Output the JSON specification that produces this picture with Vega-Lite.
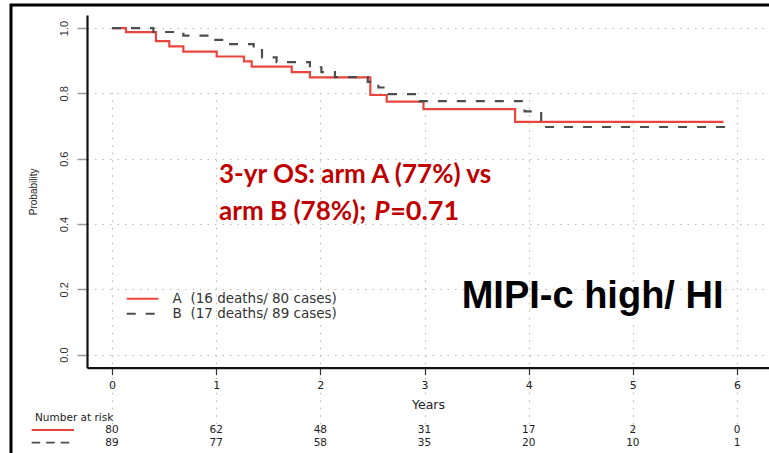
{
  "$schema": "https://vega.github.io/schema/vega-lite/v6.json",
  "width": 760,
  "height": 450,
  "autosize": {"type": "none"},
  "padding": {"left": 11, "top": 5, "right": -2, "bottom": -2},
  "background": "white",
  "config": {"view": {"stroke": "#000000", "strokeWidth": 3}},
  "datasets": {
    "km": [
      {"arm": "A\u00a0\u00a0(16 deaths/ 80 cases)", "Years": 0, "S": 1.0},
      {"arm": "A\u00a0\u00a0(16 deaths/ 80 cases)", "Years": 0.134, "S": 0.9875},
      {"arm": "A\u00a0\u00a0(16 deaths/ 80 cases)", "Years": 0.422, "S": 0.96},
      {"arm": "A\u00a0\u00a0(16 deaths/ 80 cases)", "Years": 0.55, "S": 0.944},
      {"arm": "A\u00a0\u00a0(16 deaths/ 80 cases)", "Years": 0.685, "S": 0.928},
      {"arm": "A\u00a0\u00a0(16 deaths/ 80 cases)", "Years": 1.005, "S": 0.913},
      {"arm": "A\u00a0\u00a0(16 deaths/ 80 cases)", "Years": 1.267, "S": 0.898},
      {"arm": "A\u00a0\u00a0(16 deaths/ 80 cases)", "Years": 1.341, "S": 0.882},
      {"arm": "A\u00a0\u00a0(16 deaths/ 80 cases)", "Years": 1.725, "S": 0.865},
      {"arm": "A\u00a0\u00a0(16 deaths/ 80 cases)", "Years": 1.9, "S": 0.849},
      {"arm": "A\u00a0\u00a0(16 deaths/ 80 cases)", "Years": 2.48, "S": 0.795},
      {"arm": "A\u00a0\u00a0(16 deaths/ 80 cases)", "Years": 2.637, "S": 0.775},
      {"arm": "A\u00a0\u00a0(16 deaths/ 80 cases)", "Years": 2.99, "S": 0.752},
      {"arm": "A\u00a0\u00a0(16 deaths/ 80 cases)", "Years": 3.87, "S": 0.713},
      {"arm": "A\u00a0\u00a0(16 deaths/ 80 cases)", "Years": 5.87, "S": 0.713},
      {"arm": "B\u00a0\u00a0(17 deaths/ 89 cases)", "Years": 0, "S": 1.0},
      {"arm": "B\u00a0\u00a0(17 deaths/ 89 cases)", "Years": 0.397, "S": 0.988},
      {"arm": "B\u00a0\u00a0(17 deaths/ 89 cases)", "Years": 0.685, "S": 0.977},
      {"arm": "B\u00a0\u00a0(17 deaths/ 89 cases)", "Years": 0.98, "S": 0.964},
      {"arm": "B\u00a0\u00a0(17 deaths/ 89 cases)", "Years": 1.07, "S": 0.951},
      {"arm": "B\u00a0\u00a0(17 deaths/ 89 cases)", "Years": 1.36, "S": 0.94},
      {"arm": "B\u00a0\u00a0(17 deaths/ 89 cases)", "Years": 1.44, "S": 0.91},
      {"arm": "B\u00a0\u00a0(17 deaths/ 89 cases)", "Years": 1.58, "S": 0.896},
      {"arm": "B\u00a0\u00a0(17 deaths/ 89 cases)", "Years": 1.9, "S": 0.88},
      {"arm": "B\u00a0\u00a0(17 deaths/ 89 cases)", "Years": 2.01, "S": 0.865},
      {"arm": "B\u00a0\u00a0(17 deaths/ 89 cases)", "Years": 2.14, "S": 0.85},
      {"arm": "B\u00a0\u00a0(17 deaths/ 89 cases)", "Years": 2.455, "S": 0.835},
      {"arm": "B\u00a0\u00a0(17 deaths/ 89 cases)", "Years": 2.557, "S": 0.818},
      {"arm": "B\u00a0\u00a0(17 deaths/ 89 cases)", "Years": 2.65, "S": 0.798},
      {"arm": "B\u00a0\u00a0(17 deaths/ 89 cases)", "Years": 2.95, "S": 0.776},
      {"arm": "B\u00a0\u00a0(17 deaths/ 89 cases)", "Years": 3.96, "S": 0.745},
      {"arm": "B\u00a0\u00a0(17 deaths/ 89 cases)", "Years": 4.12, "S": 0.697},
      {"arm": "B\u00a0\u00a0(17 deaths/ 89 cases)", "Years": 5.92, "S": 0.697}
    ],
    "risk": [
      {"arm": "A", "Years": 0, "n": 80},
      {"arm": "A", "Years": 1, "n": 62},
      {"arm": "A", "Years": 2, "n": 48},
      {"arm": "A", "Years": 3, "n": 31},
      {"arm": "A", "Years": 4, "n": 17},
      {"arm": "A", "Years": 5, "n": 2},
      {"arm": "A", "Years": 6, "n": 0},
      {"arm": "B", "Years": 0, "n": 89},
      {"arm": "B", "Years": 1, "n": 77},
      {"arm": "B", "Years": 2, "n": 58},
      {"arm": "B", "Years": 3, "n": 35},
      {"arm": "B", "Years": 4, "n": 20},
      {"arm": "B", "Years": 5, "n": 10},
      {"arm": "B", "Years": 6, "n": 1}
    ]
  },
  "layer": [
    {
      "layer": [
        {
          "data": {"name": "km"},
          "mark": {"type": "line", "interpolate": "step-after", "strokeWidth": 2.2},
          "encoding": {
            "x": {
              "field": "Years", "type": "quantitative",
              "scale": {"domain": [-0.24, 6.307], "range": [76, 758], "nice": false, "zero": false},
              "axis": {
                "orient": "bottom", "offset": -87.3, "values": [0, 1, 2, 3, 4, 5, 6], "format": "d", "title": "Years",
                "domainColor": "#111111", "domainWidth": 2.2, "tickColor": "#333333", "tickSize": 7, "tickWidth": 1.2,
                "labelFont": "DejaVu Sans", "labelFontSize": 11, "labelColor": "#222222", "labelPadding": 5,
                "labelFlush": false, "labelOverlap": false,
                "titleFont": "DejaVu Sans", "titleFontSize": 12.5, "titleFontWeight": "normal", "titleColor": "#222222", "titlePadding": 8,
                "grid": true, "gridColor": "#bbbbbb", "gridDash": [1.5, 6], "gridWidth": 1.2
              }
            },
            "y": {
              "field": "S", "type": "quantitative",
              "scale": {"domain": [-0.04, 1.04], "range": [362.7, 10], "nice": false, "zero": false},
              "axis": {
                "orient": "left", "offset": -76, "values": [0, 0.2, 0.4, 0.6, 0.8, 1.0], "format": ".1f", "title": "Probability",
                "domainColor": "#111111", "domainWidth": 2.2, "tickColor": "#999999", "tickSize": 10, "tickWidth": 1.5,
                "labelFont": "Liberation Sans", "labelFontSize": 11, "labelColor": "#333333", "labelPadding": 8,
                "labelAngle": -90, "labelAlign": "center", "labelBaseline": "bottom", "labelFlush": false, "labelOverlap": false,
                "titleFont": "Liberation Sans", "titleFontSize": 10, "titleFontWeight": "normal", "titleColor": "#222222",
                "titleX": -54, "titleY": 186.35, "titleAngle": -90, "titleAlign": "center", "titleBaseline": "middle",
                "grid": true, "gridColor": "#bbbbbb", "gridDash": [1.5, 6], "gridWidth": 1.2
              }
            },
            "color": {
              "field": "arm", "type": "nominal",
              "scale": {"domain": ["A\u00a0\u00a0(16 deaths/ 80 cases)", "B\u00a0\u00a0(17 deaths/ 89 cases)"], "range": ["#E8453C", "#4d4d4d"]},
              "legend": {
                "title": null, "orient": "none", "legendX": 124.85, "legendY": 287.0, "direction": "vertical",
                "symbolType": "M-6,0H6", "symbolSize": 28, "symbolStrokeWidth": 2,
                "labelFont": "DejaVu Sans", "labelFontSize": 13.5, "labelColor": "#333333", "labelOffset": 23.25, "labelLimit": 400,
                "rowPadding": 0, "padding": 0
              }
            },
            "strokeDash": {
              "field": "arm", "type": "nominal",
              "scale": {"domain": ["A\u00a0\u00a0(16 deaths/ 80 cases)", "B\u00a0\u00a0(17 deaths/ 89 cases)"], "range": [[1, 0], [9, 10]]},
              "legend": {
                "title": null, "orient": "none", "legendX": 124.85, "legendY": 287.0, "direction": "vertical",
                "symbolType": "M-6,0H6", "symbolSize": 28, "symbolStrokeWidth": 2,
                "labelFont": "DejaVu Sans", "labelFontSize": 13.5, "labelColor": "#333333", "labelOffset": 23.25, "labelLimit": 400,
                "rowPadding": 0, "padding": 0
              }
            }
          }
        },
        {
          "data": {"values": [{}]},
          "mark": {"type": "text", "text": "3-yr OS: arm A (77%) vs", "font": "Lato", "fontWeight": "bold", "fontSize": 26, "color": "#C00000", "align": "left", "baseline": "alphabetic"},
          "encoding": {"x": {"datum": 1.027, "type": "quantitative"}, "y": {"datum": 0.527, "type": "quantitative"}}
        },
        {
          "data": {"values": [{}]},
          "mark": {"type": "text", "text": "arm B (78%);", "font": "Lato", "fontWeight": "bold", "fontSize": 26, "color": "#C00000", "align": "left", "baseline": "alphabetic"},
          "encoding": {"x": {"datum": 1.027, "type": "quantitative"}, "y": {"datum": 0.4127, "type": "quantitative"}}
        },
        {
          "data": {"values": [{}]},
          "mark": {"type": "text", "text": "P", "font": "Lato", "fontWeight": "bold", "fontStyle": "italic", "fontSize": 26, "color": "#C00000", "align": "left", "baseline": "alphabetic"},
          "encoding": {"x": {"datum": 2.52, "type": "quantitative"}, "y": {"datum": 0.4127, "type": "quantitative"}}
        },
        {
          "data": {"values": [{}]},
          "mark": {"type": "text", "text": "=0.71", "font": "Lato", "fontWeight": "bold", "fontSize": 27, "color": "#C00000", "align": "left", "baseline": "alphabetic"},
          "encoding": {"x": {"datum": 2.67, "type": "quantitative"}, "y": {"datum": 0.4127, "type": "quantitative"}}
        },
        {
          "data": {"values": [{}]},
          "mark": {"type": "text", "text": "MIPI-c high/ HI", "font": "Liberation Sans", "fontWeight": "bold", "fontSize": 38, "color": "#000000", "align": "left", "baseline": "alphabetic"},
          "encoding": {"x": {"datum": 3.357, "type": "quantitative"}, "y": {"datum": 0.142, "type": "quantitative"}}
        }
      ]
    },
    {
      "layer": [
        {
          "data": {"name": "risk"},
          "mark": {"type": "text", "font": "DejaVu Sans", "fontSize": 10.5, "color": "#222222", "align": "center", "baseline": "middle"},
          "encoding": {
            "x": {"field": "Years", "type": "quantitative"},
            "y": {"field": "arm", "type": "nominal", "scale": {"type": "point", "domain": ["header", "A", "B"], "range": [412.5, 437.6], "padding": 0}, "axis": null},
            "text": {"field": "n", "type": "quantitative"}
          }
        },
        {
          "data": {"values": [{}]},
          "mark": {"type": "text", "text": "Number at risk", "font": "DejaVu Sans", "fontSize": 10.5, "color": "#222222", "align": "left", "baseline": "middle"},
          "encoding": {"x": {"datum": -0.739, "type": "quantitative"}, "y": {"datum": "header", "type": "nominal", "axis": null}}
        },
        {
          "data": {"values": [{}]},
          "mark": {"type": "rule", "color": "#E8453C", "strokeWidth": 2},
          "encoding": {"x": {"datum": -0.771, "type": "quantitative"}, "x2": {"datum": -0.365}, "y": {"datum": "A", "type": "nominal", "axis": null}}
        },
        {
          "data": {"values": [{}]},
          "mark": {"type": "rule", "color": "#4d4d4d", "strokeWidth": 1.6, "strokeDash": [8.5, 6]},
          "encoding": {"x": {"datum": -0.771, "type": "quantitative"}, "x2": {"datum": -0.39}, "y": {"datum": "B", "type": "nominal", "axis": null}}
        }
      ]
    }
  ],
  "resolve": {"scale": {"y": "independent"}}
}
